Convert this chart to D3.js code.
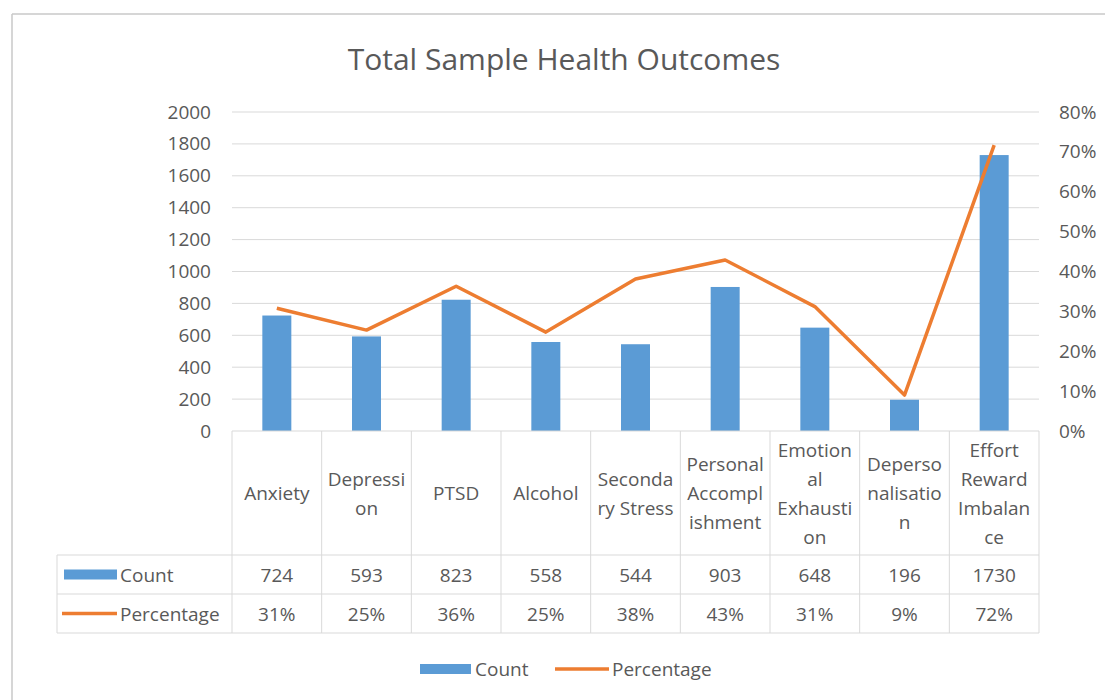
<!DOCTYPE html>
<html><head><meta charset="utf-8">
<script src="https://cdn.jsdelivr.net/npm/d3@7"></script>
<style>
body{margin:0;background:#fff;}
svg text{font-family:"Open Sans","Noto Sans",sans-serif;fill:#595959;}
</style></head>
<body><svg id="c" width="1105" height="700"></svg>
<script>
const categories = ["Anxiety","Depression","PTSD","Alcohol","Secondary Stress","Personal Accomplishment","Emotional Exhaustion","Depersonalisation","Effort Reward Imbalance"];
const categoryLines = [["Anxiety"],["Depressi","on"],["PTSD"],["Alcohol"],["Seconda","ry Stress"],["Personal","Accompl","ishment"],["Emotion","al","Exhausti","on"],["Deperso","nalisatio","n"],["Effort","Reward","Imbalan","ce"]];
const counts = [724,593,823,558,544,903,648,196,1730];
const percentages = [0.308,0.253,0.363,0.248,0.381,0.429,0.312,0.09,0.717];
const percentLabels = ["31%","25%","36%","25%","38%","43%","31%","9%","72%"];
const leftTicks = [0,200,400,600,800,1000,1200,1400,1600,1800,2000];
const rightTicks = [0,0.1,0.2,0.3,0.4,0.5,0.6,0.7,0.8];
const seriesNames = ["Count","Percentage"];

const blue = "#5B9BD5", orange = "#ED7D31", grid = "#D9D9D9";
const fs = "19px";
const svg = d3.select("#c");
const L = 232, R = 1039, T = 112, B = 431;
const tableLeft = 57, catRowBottom = 555, countRowBottom = 594, pctRowBottom = 633;

// outer frame
svg.append("line").attr("x1",12).attr("x2",1105).attr("y1",14).attr("y2",14).attr("stroke","#c8c8c8").attr("stroke-width",1.5);
svg.append("line").attr("x1",12).attr("x2",12).attr("y1",14).attr("y2",700).attr("stroke","#c8c8c8").attr("stroke-width",1.5);

svg.append("text").attr("x",564).attr("y",70).attr("text-anchor","middle")
  .style("font-size","30px").text("Total Sample Health Outcomes");

const x = d3.scaleBand().domain(categories).range([L,R]).paddingInner(0).paddingOuter(0);
const y = d3.scaleLinear().domain([0,2000]).range([B,T]);
const y2 = d3.scaleLinear().domain([0,0.8]).range([B,T]);

// gridlines
svg.append("g").selectAll("line").data(leftTicks.slice(1)).join("line")
  .attr("x1",L).attr("x2",R).attr("y1",d=>y(d)).attr("y2",d=>y(d))
  .attr("stroke",grid).attr("stroke-width",1);

// left axis
const ax = svg.append("g").attr("transform",`translate(${211},0)`)
  .call(d3.axisLeft(y).tickValues(leftTicks).tickFormat(d3.format("d")).tickSize(0).tickPadding(0));
ax.select(".domain").remove();
ax.selectAll("text").style("font-size",fs).style("fill","#595959").style("font-family","'Open Sans'");

// right axis
const ax2 = svg.append("g").attr("transform",`translate(${1059},0)`)
  .call(d3.axisRight(y2).tickValues(rightTicks).tickFormat(d3.format(".0%")).tickSize(0).tickPadding(0));
ax2.select(".domain").remove();
ax2.selectAll("text").style("font-size",fs).style("fill","#595959").style("font-family","'Open Sans'");

// bars
const bw = 29;
svg.append("g").selectAll("rect").data(counts).join("rect")
  .attr("x",(d,i)=>x(categories[i])+x.bandwidth()/2-bw/2)
  .attr("width",bw)
  .attr("y",d=>y(d)).attr("height",d=>B-y(d)).attr("fill",blue);

// line
svg.append("path").datum(percentages)
  .attr("fill","none").attr("stroke",orange).attr("stroke-width",3.5).attr("stroke-linejoin","round")
  .attr("d",d3.line().x((d,i)=>x(categories[i])+x.bandwidth()/2).y(d=>y2(d)));

// data table
const tg = svg.append("g");
[[L,B],[tableLeft,catRowBottom],[tableLeft,countRowBottom],[tableLeft,pctRowBottom]].forEach(([x0,yy])=>{
  tg.append("line").attr("x1",x0).attr("x2",R).attr("y1",yy).attr("y2",yy).attr("stroke",grid).attr("stroke-width",1);
});
const bounds = categories.map(c=>x(c)).concat([R]);
tg.selectAll("line.v").data(bounds).join("line").attr("class","v")
  .attr("x1",d=>d).attr("x2",d=>d).attr("y1",B).attr("y2",pctRowBottom).attr("stroke",grid).attr("stroke-width",1);
tg.append("line").attr("x1",tableLeft).attr("x2",tableLeft).attr("y1",catRowBottom).attr("y2",pctRowBottom).attr("stroke",grid);

// category labels
const lh = 29, catMid = (B+catRowBottom)/2;
categoryLines.forEach((lines,i)=>{
  const cx = x(categories[i])+x.bandwidth()/2;
  const t = tg.append("text").attr("text-anchor","middle").style("font-size",fs);
  lines.forEach((ln,j)=>{
    t.append("tspan").attr("x",cx).attr("y",catMid+(j-(lines.length-1)/2)*lh+7).text(ln);
  });
});
tg.selectAll("text.cnt").data(counts).join("text").attr("class","cnt")
  .attr("x",(d,i)=>x(categories[i])+x.bandwidth()/2).attr("y",(catRowBottom+countRowBottom)/2+7)
  .attr("text-anchor","middle").style("font-size",fs).text(d=>d);
tg.selectAll("text.pct").data(percentLabels).join("text").attr("class","pct")
  .attr("x",(d,i)=>x(categories[i])+x.bandwidth()/2).attr("y",(countRowBottom+pctRowBottom)/2+7)
  .attr("text-anchor","middle").style("font-size",fs).text(d=>d);

// table legend keys
const cy1 = (catRowBottom+countRowBottom)/2, cy2 = (countRowBottom+pctRowBottom)/2;
tg.append("rect").attr("x",64).attr("y",cy1-5).attr("width",53).attr("height",10).attr("fill",blue);
tg.append("text").attr("x",120).attr("y",cy1+7).style("font-size",fs).text(seriesNames[0]);
tg.append("line").attr("x1",62).attr("x2",117).attr("y1",cy2).attr("y2",cy2).attr("stroke",orange).attr("stroke-width",3.5);
tg.append("text").attr("x",120).attr("y",cy2+7).style("font-size",fs).text(seriesNames[1]);

// bottom legend
const ly = 669;
const lg = svg.append("g");
lg.append("rect").attr("x",420).attr("y",ly-5).attr("width",51).attr("height",10).attr("fill",blue);
lg.append("text").attr("x",475).attr("y",ly+7).style("font-size",fs).text(seriesNames[0]);
lg.append("line").attr("x1",555).attr("x2",609).attr("y1",ly).attr("y2",ly).attr("stroke",orange).attr("stroke-width",3.5);
lg.append("text").attr("x",612).attr("y",ly+7).style("font-size",fs).text(seriesNames[1]);
</script></body></html>
